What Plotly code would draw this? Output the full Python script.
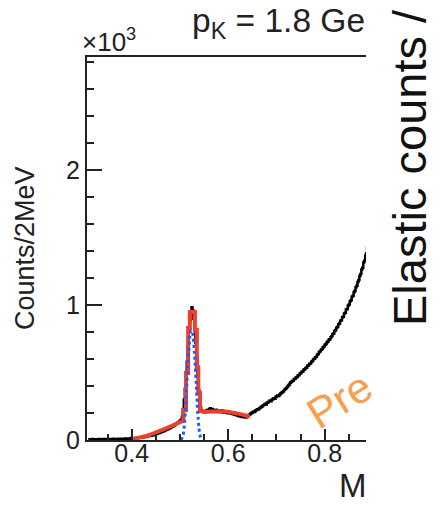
import numpy as np
import plotly.graph_objects as go

# ---- data ----
bin_lo = 0.310
bin_w = 0.002
counts = [
    4, 6, 3, 5, 7, 4, 5, 3, 6, 5,
    4, 7, 5, 6, 4, 8, 5, 6, 7, 5,
    6, 5, 8, 6, 7, 5, 9, 6, 7, 8,
    7, 9, 6, 8, 10, 7, 9, 8, 11, 9,
    10, 8, 12, 9, 14, 11, 13, 12, 15, 13,
    16, 14, 18, 17, 20, 19, 22, 21, 24, 23,
    27, 26, 30, 29, 33, 32, 36, 35, 39, 40,
    44, 46, 50, 51, 56, 57, 62, 63, 67, 70,
    74, 78, 80, 85, 88, 93, 96, 101, 104, 110,
    116, 121, 126, 132, 138, 145, 150, 175, 230, 300,
    380, 470, 580, 690, 800, 880, 940, 985, 960, 900,
    820, 720, 600, 480, 370, 290, 240, 218, 212, 208,
    214, 206, 218, 222, 212, 228, 236, 224, 230, 219,
    221, 214, 225, 210, 218, 208, 215, 211, 220, 204,
    212, 205, 210, 201, 208, 198, 204, 196, 200, 193,
    197, 188, 192, 184, 186, 178, 182, 174, 176, 171,
    175, 168, 172, 166, 178, 180, 186, 190, 196, 200,
    206, 212, 208, 218, 222, 228, 226, 236, 240, 246,
    250, 258, 262, 268, 264, 276, 280, 286, 292, 288,
    298, 304, 310, 306, 318, 324, 330, 326, 338, 344,
    350, 356, 362, 372, 378, 386, 394, 404, 412, 424,
    430, 438, 440, 452, 454, 464, 468, 478, 480, 492,
    496, 506, 508, 520, 524, 534, 538, 550, 554, 566,
    568, 580, 586, 598, 602, 614, 618, 632, 638, 652,
    658, 670, 674, 688, 694, 706, 712, 724, 730, 744,
    748, 762, 770, 786, 790, 808, 816, 832, 840, 858,
    864, 884, 888, 910, 914, 938, 944, 968, 972, 998,
    1004, 1028, 1036, 1062, 1070, 1096, 1106, 1132, 1144, 1172,
    1186, 1216, 1230, 1264, 1278, 1316, 1330, 1368, 1384, 1430,
]

fit_x = [0.400, 0.410, 0.420, 0.430, 0.440, 0.450, 0.460, 0.470, 0.480, 0.490,
         0.500, 0.507, 0.507, 0.5125, 0.5125, 0.517, 0.517, 0.5205, 0.5205,
         0.531, 0.531, 0.535, 0.535, 0.538, 0.538, 0.5415, 0.5415, 0.550,
         0.560, 0.570, 0.580, 0.590, 0.600, 0.610, 0.620, 0.630, 0.640, 0.645]
fit_y = [5, 12, 20, 30, 42, 54, 68, 84, 100, 118,
         132, 140, 222, 222, 496, 496, 830, 830, 950,
         950, 815, 815, 540, 540, 348, 348, 215, 210,
         212, 214, 215, 213, 210, 205, 198, 188, 178, 172]

sig_x = [0.502, 0.506, 0.510, 0.514, 0.518, 0.522, 0.524, 0.526, 0.530,
         0.534, 0.538, 0.542, 0.546]
sig_y = [0, 30, 150, 400, 650, 800, 815, 800, 650, 400, 150, 30, 0]

xticks = [0.4, 0.6, 0.8]
xticklabels = ["0.4", "0.6", "0.8"]
yticks = [0, 1000, 2000]
yticklabels = ["0", "1", "2"]

# ---- figure ----
W, H = 442, 505
L, R, T, B = 87, 366, 57, 440
FONT = "Liberation Sans, Arial, Helvetica, sans-serif"

centers = bin_lo + bin_w * (np.arange(len(counts)) + 0.5)

fig = go.Figure()
fig.add_trace(go.Scatter(x=centers, y=counts, mode="lines",
                         line=dict(color="black", width=2.5, shape="hvh"),
                         hoverinfo="skip"))
fig.add_trace(go.Scatter(x=fit_x, y=fit_y, mode="lines",
                         line=dict(color="#ee3f2c", width=4),
                         hoverinfo="skip"))
fig.add_trace(go.Scatter(x=sig_x, y=sig_y, mode="lines",
                         line=dict(color="#1a5cff", width=3, dash="dot", shape="spline"),
                         hoverinfo="skip"))

def px(xp):
    return (xp - L) / (R - L)

def py(yp):
    return (B - yp) / (B - T)

ann = []
ann.append(dict(x=px(80), y=py(59), xref="paper", yref="paper",
                text="×10<sup>3</sup>", showarrow=False, xanchor="left", yanchor="bottom",
                font=dict(family=FONT, size=26, color="#222")))
ann.append(dict(x=px(190), y=py(46), xref="paper", yref="paper",
                text="p<sub>K</sub> = 1.8 Ge", showarrow=False, xanchor="left", yanchor="bottom",
                font=dict(family=FONT, size=33.5, color="#222")))
ann.append(dict(x=px(25), y=py(248), xref="paper", yref="paper",
                text="Counts/2MeV", showarrow=False, textangle=-90,
                xanchor="center", yanchor="middle",
                font=dict(family=FONT, size=27, color="#222")))
ann.append(dict(x=px(369), y=py(506), xref="paper", yref="paper",
                text="M", showarrow=False, xanchor="right", yanchor="bottom",
                font=dict(family=FONT, size=33, color="#222")))
ann.append(dict(x=px(381), y=py(328), xref="paper", yref="paper",
                text="Elastic counts / (", showarrow=False, textangle=-90,
                xanchor="left", yanchor="bottom",
                font=dict(family=FONT, size=47, color="#111")))
ann.append(dict(x=px(339), y=py(400), xref="paper", yref="paper",
                text="Pre", showarrow=False, textangle=-32,
                xanchor="center", yanchor="middle",
                font=dict(family=FONT, size=43, color="#f7a050")))

fig.update_layout(
    width=W, height=H,
    margin=dict(l=L, r=W - R, t=T, b=H - B, pad=0),
    paper_bgcolor="white", plot_bgcolor="white",
    showlegend=False,
    annotations=ann,
    font=dict(family=FONT, color="#222"),
)
fig.update_xaxes(range=[0.3073, 0.8857], showgrid=False, zeroline=False,
                 showline=True, linecolor="#222", linewidth=2, mirror=True,
                 ticks="inside", ticklen=11, tickwidth=2, tickcolor="#222",
                 tickvals=xticks, ticktext=xticklabels, ticklabelstandoff=-10,
                 tickfont=dict(family=FONT, size=25, color="#222"),
                 minor=dict(dtick=0.05, tick0=0, ticks="inside", ticklen=6,
                            tickwidth=2, tickcolor="#222"))
fig.update_yaxes(range=[0, 2840], showgrid=False, zeroline=False,
                 showline=True, linecolor="#222", linewidth=2,
                 ticks="inside", ticklen=15, tickwidth=2, tickcolor="#222",
                 tickvals=yticks, ticktext=yticklabels,
                 tickfont=dict(family=FONT, size=25, color="#222"),
                 minor=dict(dtick=200, tick0=0, ticks="inside", ticklen=7,
                            tickwidth=2, tickcolor="#222"))

fig.write_html("out.html")
